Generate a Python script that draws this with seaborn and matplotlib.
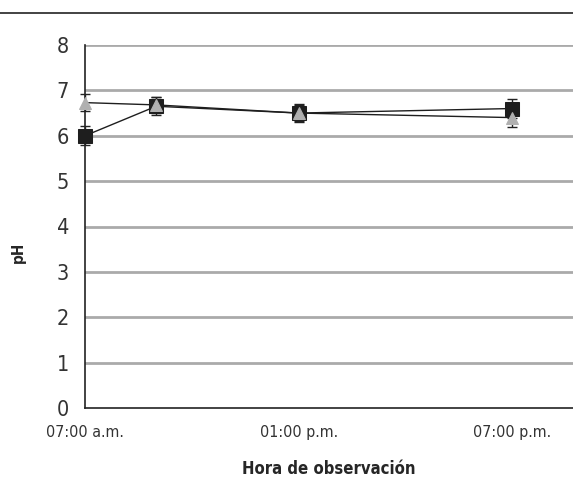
import pandas as pd
import matplotlib.pyplot as plt
import seaborn as sns
from matplotlib.lines import Line2D

# Observation times (hours of the day) and pH readings
hours = [7, 9, 13, 19]
ph_square = [6.0, 6.65, 6.5, 6.6]
err_square = [0.21, 0.2, 0.2, 0.2]
ph_triangle = [6.73, 6.68, 6.5, 6.4]
err_triangle = [0.18, 0.18, 0.18, 0.2]

tick_hours = [7, 13, 19]
tick_labels = ["07:00 a.m.", "01:00 p.m.", "07:00 p.m."]

sns.set_style("white")
plt.rcParams['font.family'] = ['DejaVu Sans']
plt.rcParams['font.stretch'] = 'condensed'

df = pd.DataFrame({
    'hora': hours * 2,
    'ph': ph_square + ph_triangle,
    'serie': ['A'] * len(hours) + ['B'] * len(hours),
})

fig = plt.figure(figsize=(5.73, 4.80), dpi=100)
ax = fig.add_axes([85 / 573, 1 - 408 / 480, 488 / 573, (408 - 45) / 480])

# grid lines
for y in range(1, 9):
    ax.axhline(y, color='#aaaaaa', lw=2, zorder=0)

# error bars
for vals, errs in [(ph_triangle, err_triangle), (ph_square, err_square)]:
    eb = ax.errorbar(hours, vals, yerr=errs, fmt='none', ecolor='#222222',
                     elinewidth=1, capsize=3.5, capthick=1, zorder=2)
    for art in eb.lines[1] + eb.lines[2]:
        art.set_clip_on(False)

sns.lineplot(data=df, x='hora', y='ph', hue='serie', style='serie',
             palette={'A': '#1e1e1e', 'B': '#1e1e1e'},
             markers={'A': 's', 'B': '^'}, dashes=False, lw=1,
             legend=False, ax=ax)

# marker styling
for ln in ax.get_lines():
    m = ln.get_marker()
    if m == 's':
        ln.set_markersize(9.5)
        ln.set_markerfacecolor('#1e1e1e')
        ln.set_markeredgecolor('#1e1e1e')
        ln.set_zorder(3)
        ln.set_clip_on(False)
    elif m == '^':
        ln.set_markersize(8.5)
        ln.set_markerfacecolor('#b0b0b0')
        ln.set_markeredgecolor('#b0b0b0')
        ln.set_zorder(4)
        ln.set_clip_on(False)

ax.set_xlim(7, 7 + 488 / 35.6)
ax.set_ylim(0, 8)
ax.set_yticks(range(0, 9))
ax.set_xticks(tick_hours)
ax.set_xticklabels(tick_labels)

for s in ['top', 'right']:
    ax.spines[s].set_visible(False)
for s in ['left', 'bottom']:
    ax.spines[s].set_color('#222222')
    ax.spines[s].set_linewidth(1.2)

ax.tick_params(axis='both', direction='inout', length=7, width=1, color='#222222',
               labelcolor='#333333')
ax.tick_params(axis='y', labelsize=15.5, pad=8)
ax.tick_params(axis='x', labelsize=11.5, pad=9)

ax.set_xlabel("Hora de observación", fontsize=12, fontweight='bold', labelpad=14)
ax.set_ylabel("pH", fontsize=11, fontweight='bold')
ax.yaxis.set_label_coords(-0.122, 0.43)

# top rule
fig.add_artist(Line2D([0, 1], [1 - 13 / 480, 1 - 13 / 480], color='#222222', lw=1.2))

fig.savefig("out.png", dpi=100)
